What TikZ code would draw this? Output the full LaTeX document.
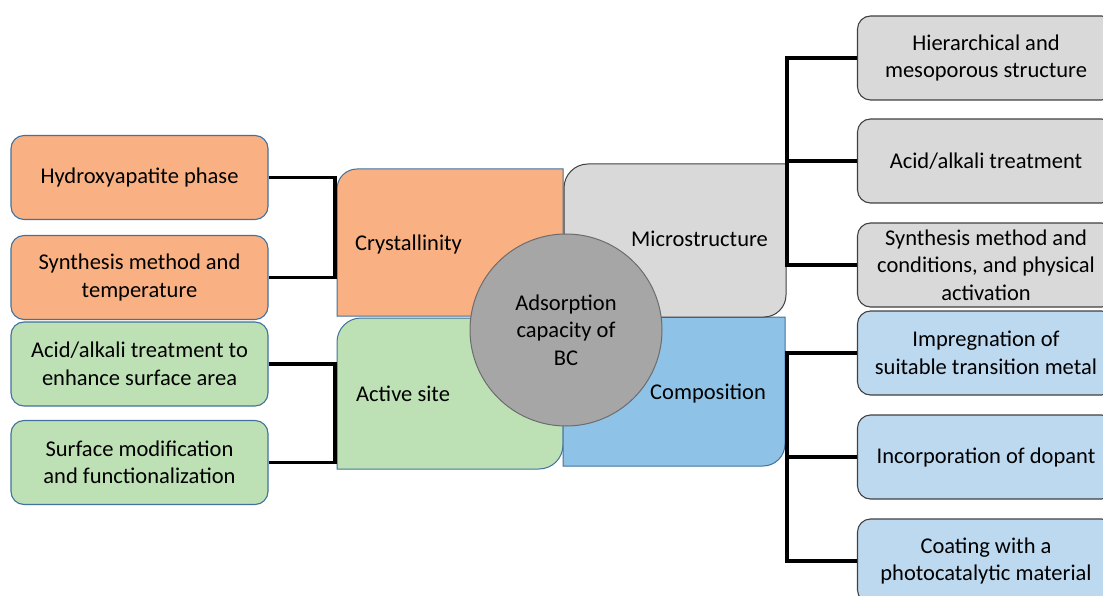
\documentclass[tikz,border=0pt]{standalone}
\usepackage{fontspec}
\setmainfont{Carlito}
\usepackage{xcolor}
\definecolor{orangeF}{HTML}{F9B183}
\definecolor{greenF}{HTML}{BDE1B5}
\definecolor{grayF}{HTML}{D9D9D9}
\definecolor{blueF}{HTML}{BDD9F0}
\definecolor{compF}{HTML}{8EC3E7}
\definecolor{circF}{HTML}{A6A6A6}
\definecolor{edgeB}{HTML}{41719C}
\definecolor{edgeD}{HTML}{404040}

\begin{document}
\begin{tikzpicture}[x=1pt, y=-1pt,
    every node/.style={font=\fontsize{22.5}{27.5}\selectfont, text=black},
    leaf/.style={draw, rounded corners=13pt, minimum width=257pt, minimum height=84pt, align=center, line width=1.1pt, inner sep=0pt},
    link/.style={draw=black, line width=3.5pt},
    quad/.style={line width=1pt},
    label/.style={inner sep=0pt, anchor=base west}]
    \clip (0,0) rectangle (1103,596);
    % left boxes
    \node[leaf, fill=orangeF, draw=edgeB] (hap) at (139.5,177.5) {Hydroxyapatite phase};
    \node[leaf, fill=orangeF, draw=edgeB] (synT) at (139.5,277.5) {Synthesis method and\\temperature};
    \node[leaf, fill=greenF, draw=edgeB] (acid) at (139.5,364) {Acid/alkali treatment to\\enhance surface area};
    \node[leaf, fill=greenF, draw=edgeB] (surf) at (139.5,462.5) {Surface modification\\and functionalization};
    % right boxes
    \node[leaf, fill=grayF, draw=edgeD] (hier) at (986,58) {Hierarchical and\\mesoporous structure};
    \node[leaf, fill=grayF, draw=edgeD] (acidT) at (986,161) {Acid/alkali treatment};
    \node[leaf, fill=grayF, draw=edgeD] (synC) at (986,265) {Synthesis method and\\conditions, and physical\\activation};
    \node[leaf, fill=blueF, draw=edgeD] (impr) at (986,353) {Impregnation of\\suitable transition metal};
    \node[leaf, fill=blueF, draw=edgeD] (dop) at (986,457) {Incorporation of dopant};
    \node[leaf, fill=blueF, draw=edgeD] (coat) at (986,561) {Coating with a\\photocatalytic material};
    % four quarters
    \filldraw[quad, fill=orangeF, draw=edgeB] (337,316) -- (337,189) arc[start angle=180, end angle=270, radius=20] -- (563,169) -- (563,316) -- cycle;
    \filldraw[quad, fill=greenF, draw=edgeB] (337,469) -- (337,342) arc[start angle=180, end angle=270, radius=24] -- (563,318) -- (563,445) arc[start angle=0, end angle=90, radius=24] -- cycle;
    \filldraw[quad, fill=compF, draw=edgeB] (563,317) -- (785,317) -- (785,444) arc[start angle=0, end angle=90, radius=22] -- (563,466) -- cycle;
    \filldraw[quad, fill=grayF, draw=edgeD] (564,317) -- (564,188) arc[start angle=180, end angle=270, radius=24] -- (786,164) -- (786,295) arc[start angle=0, end angle=90, radius=22] -- cycle;
    \node[label] (cryst) at (355,251) {Crystallinity};
    \node[label] (micro) at (631,247) {Microstructure};
    \node[label] (act) at (356,401) {Active site};
    \node[label] (comp) at (650,399) {Composition};
    \node[circle, fill=circF, draw=gray!85!black, line width=1pt, minimum size=192pt, align=center] (bc) at (566,330) {Adsorption\\capacity of\\BC};
    % brackets
    \coordinate (crysL) at (335,227);
    \coordinate (actL) at (335,413);
    \coordinate (microR) at (787,160);
    \coordinate (compR) at (787,457);
    \draw[link] (hap.east) -| (crysL) |- (synT.east);
    \draw[link] (acid.east) -| (actL) |- (surf.east);
    \draw[link] (hier.west) -| (microR) |- (synC.west);
    \draw[link] (acidT.west) -- (acidT.west -| microR);
    \draw[link] (impr.west) -| (compR) |- (coat.west);
    \draw[link] (dop.west) -- (dop.west -| compR);
\end{tikzpicture}
\end{document}
